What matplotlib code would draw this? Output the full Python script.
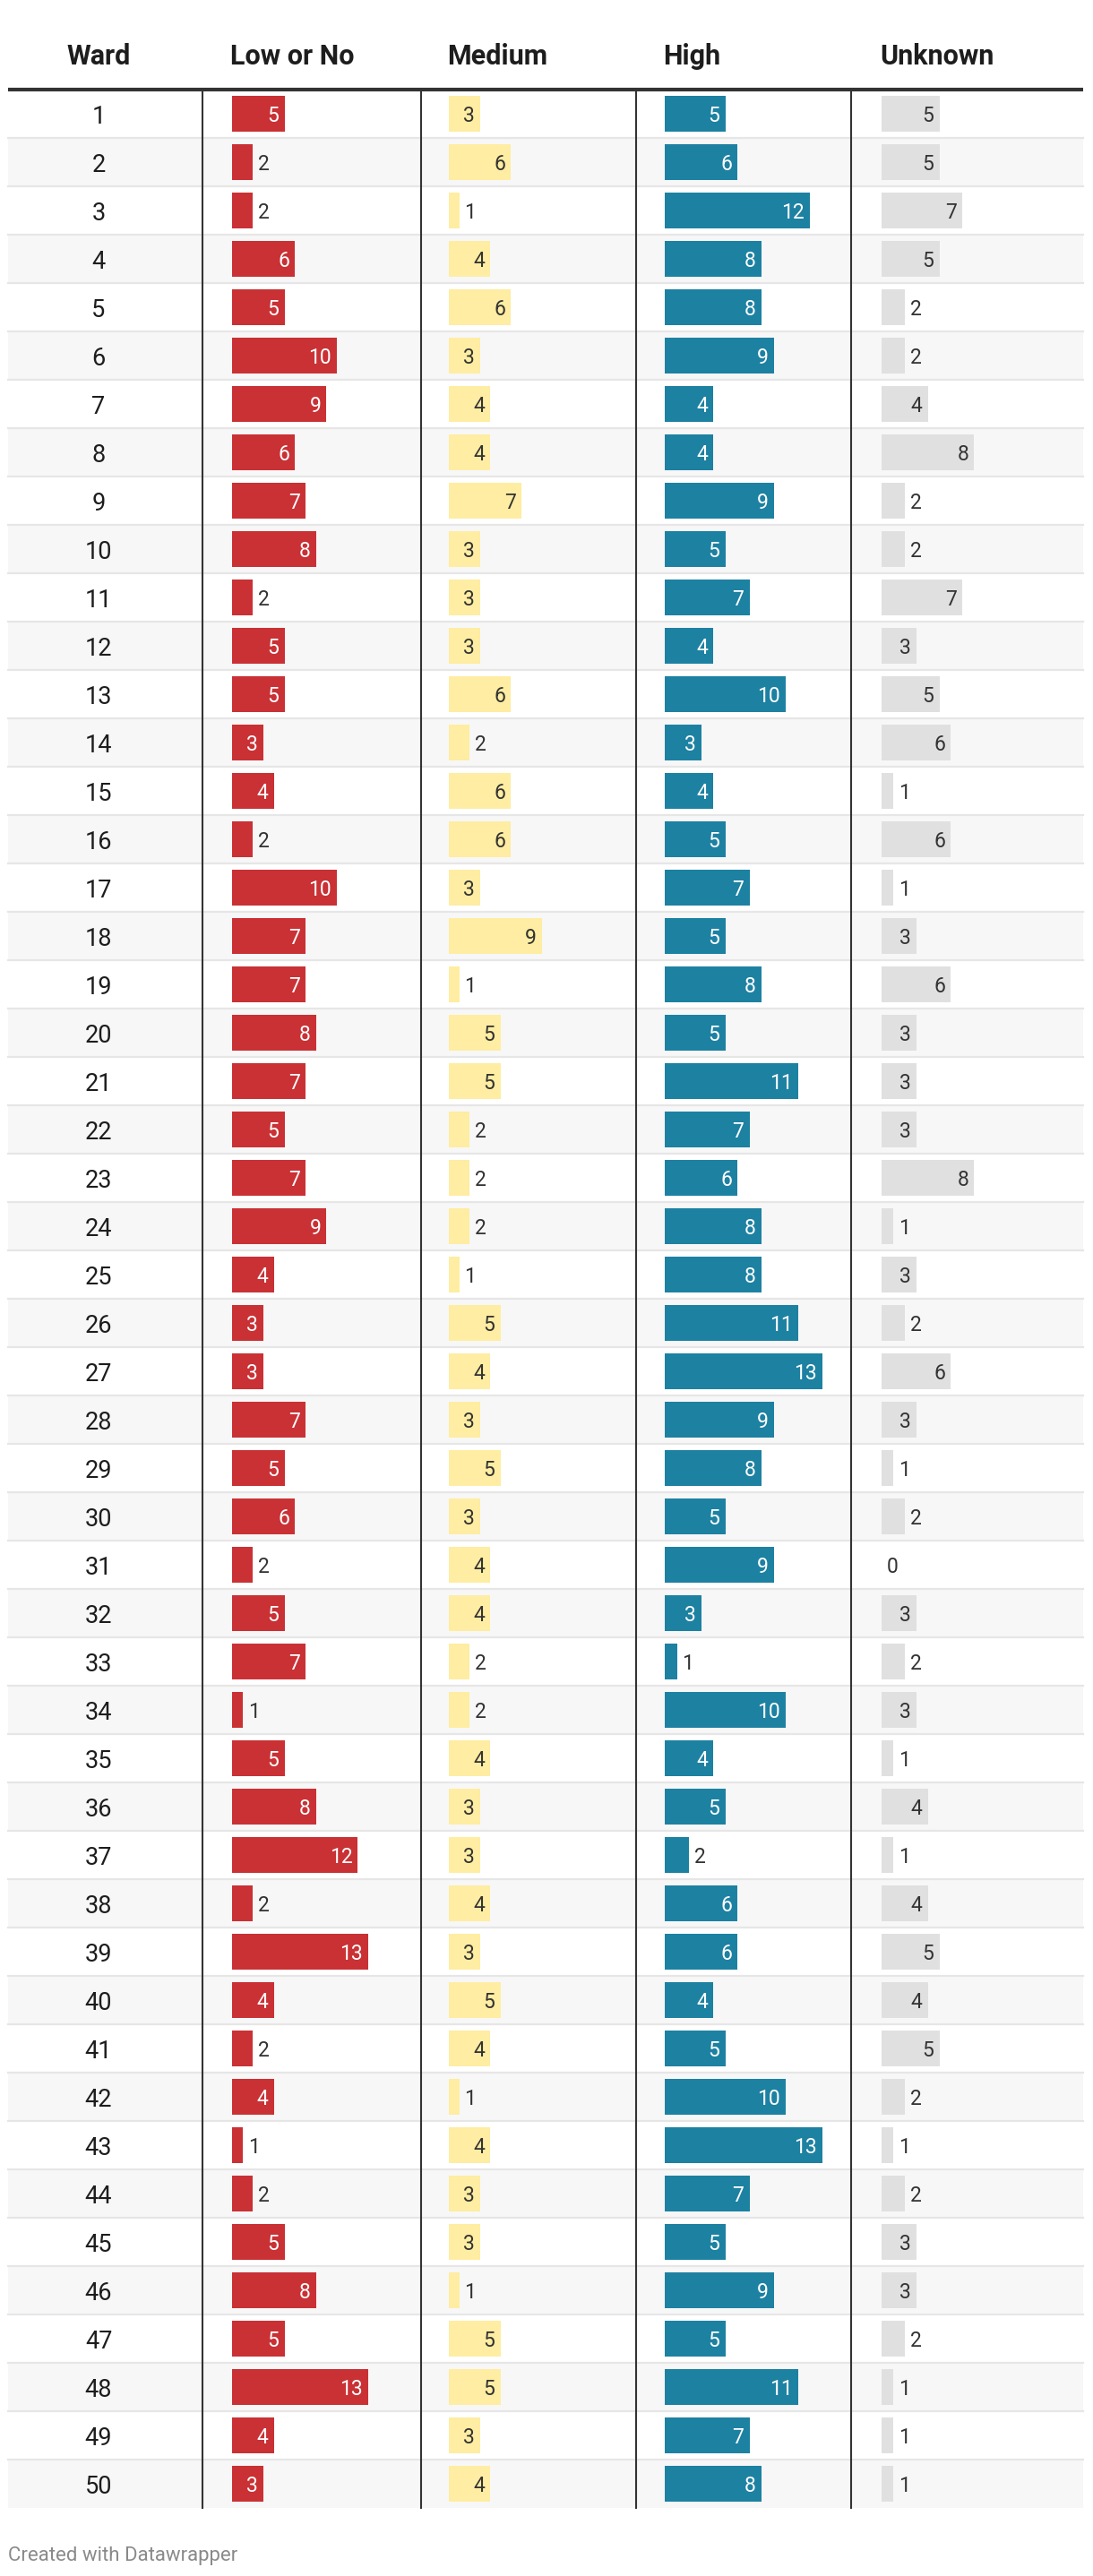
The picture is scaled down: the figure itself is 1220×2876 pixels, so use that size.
import matplotlib.pyplot as plt

plt.rcParams['font.family'] = ['Roboto', 'DejaVu Sans']

wards = list(range(1, 51))
low_or_no = [5, 2, 2, 6, 5, 10, 9, 6, 7, 8, 2, 5, 5, 3, 4, 2, 10, 7, 7, 8,
             7, 5, 7, 9, 4, 3, 3, 7, 5, 6, 2, 5, 7, 1, 5, 8, 12, 2, 13, 4,
             2, 4, 1, 2, 5, 8, 5, 13, 4, 3]
medium = [3, 6, 1, 4, 6, 3, 4, 4, 7, 3, 3, 3, 6, 2, 6, 6, 3, 9, 1, 5,
          5, 2, 2, 2, 1, 5, 4, 3, 5, 3, 4, 4, 2, 2, 4, 3, 3, 4, 3, 5,
          4, 1, 4, 3, 3, 1, 5, 5, 3, 4]
high = [5, 6, 12, 8, 8, 9, 4, 4, 9, 5, 7, 4, 10, 3, 4, 5, 7, 5, 8, 5,
        11, 7, 6, 8, 8, 11, 13, 9, 8, 5, 9, 3, 1, 10, 4, 5, 2, 6, 6, 4,
        5, 10, 13, 7, 5, 9, 5, 11, 7, 8]
unknown = [5, 5, 7, 5, 2, 2, 4, 8, 2, 2, 7, 3, 5, 6, 1, 6, 1, 3, 6, 3,
           3, 3, 8, 1, 3, 2, 6, 3, 1, 2, 0, 3, 2, 3, 1, 4, 1, 4, 5, 4,
           5, 2, 1, 2, 3, 3, 2, 1, 1, 1]

headers = ['Low or No', 'Medium', 'High', 'Unknown']
series = [low_or_no, medium, high, unknown]
bar_colors = ['#c93135', '#feeda2', '#1d81a2', '#e0e0e0']
inside_colors = ['white', '#333333', 'white', '#333333']

# layout in pixels
W, H = 1220, 2876
TL, TR = 9, 1209
TOP, ROW_H = 100, 54
BOTTOM = TOP + ROW_H * len(wards)
sep_x = [226, 470, 710, 950]
bar_x0 = [259, 501, 742, 984]
px_per_unit = [11.7, 11.5, 13.5, 12.9]
WARD_X = 110

fig = plt.figure(figsize=(W / 100, H / 100), dpi=100)

# background axes in pixel coordinates
bg = fig.add_axes([0, 0, 1, 1])
bg.set_xlim(0, W)
bg.set_ylim(H, 0)
bg.axis('off')

for i in range(len(wards)):
    y0 = TOP + i * ROW_H
    if i % 2 == 1:
        bg.fill_between([TL, TR], y0, y0 + ROW_H, color='#f7f7f7', lw=0, zorder=0)
    if i > 0:
        bg.plot([TL, TR], [y0, y0], color='#e6e6e6', lw=1.6, zorder=1)

for x in sep_x:
    bg.plot([x, x], [TOP, BOTTOM], color='#333333', lw=1.5, zorder=3)
bg.plot([TL, TR], [TOP, TOP], color='#333333', lw=3, zorder=4, solid_capstyle='butt')

bg.text(WARD_X, 63, 'Ward', ha='center', va='center', fontsize=22,
        fontweight='bold', color='#1d1d1d')
for x, name in zip(bar_x0, headers):
    bg.text(x - 2, 63, name, ha='left', va='center', fontsize=22,
            fontweight='bold', color='#1d1d1d')

bg.text(TL, 2853, 'Created with Datawrapper', ha='left', va='center',
        fontsize=16, color='#8a8a8a')

# ward numbers
ward_ax = fig.add_axes([0, 1 - BOTTOM / H, 1, (BOTTOM - TOP) / H])
ward_ax.set_xlim(0, W)
ward_ax.set_ylim(len(wards), 0)
ward_ax.axis('off')
for i, w in enumerate(wards):
    ward_ax.text(WARD_X, i + 0.5, str(w), ha='center', va='center_baseline',
                 fontsize=19.5, color='#1d1d1d')

# bar columns
col_right = sep_x[1:] + [TR]
for k, vals in enumerate(series):
    width_px = col_right[k] - bar_x0[k] - 10
    ax = fig.add_axes([bar_x0[k] / W, 1 - BOTTOM / H, width_px / W, (BOTTOM - TOP) / H])
    ax.set_xlim(0, width_px / px_per_unit[k])
    ax.set_ylim(len(wards), 0)
    ax.axis('off')
    ys = [i + 0.5 for i in range(len(vals))]
    ax.barh(ys, vals, height=40 / ROW_H, color=bar_colors[k], left=0)
    pad = 6 / px_per_unit[k]
    for y, v in zip(ys, vals):
        if v >= 3:
            ax.text(v - pad, y, str(v), ha='right', va='center_baseline',
                    fontsize=16.5, color=inside_colors[k])
        else:
            ax.text(v + pad, y, str(v), ha='left', va='center_baseline',
                    fontsize=16.5, color='#333333')

fig.savefig('out.png', dpi=100)
plt.close(fig)
